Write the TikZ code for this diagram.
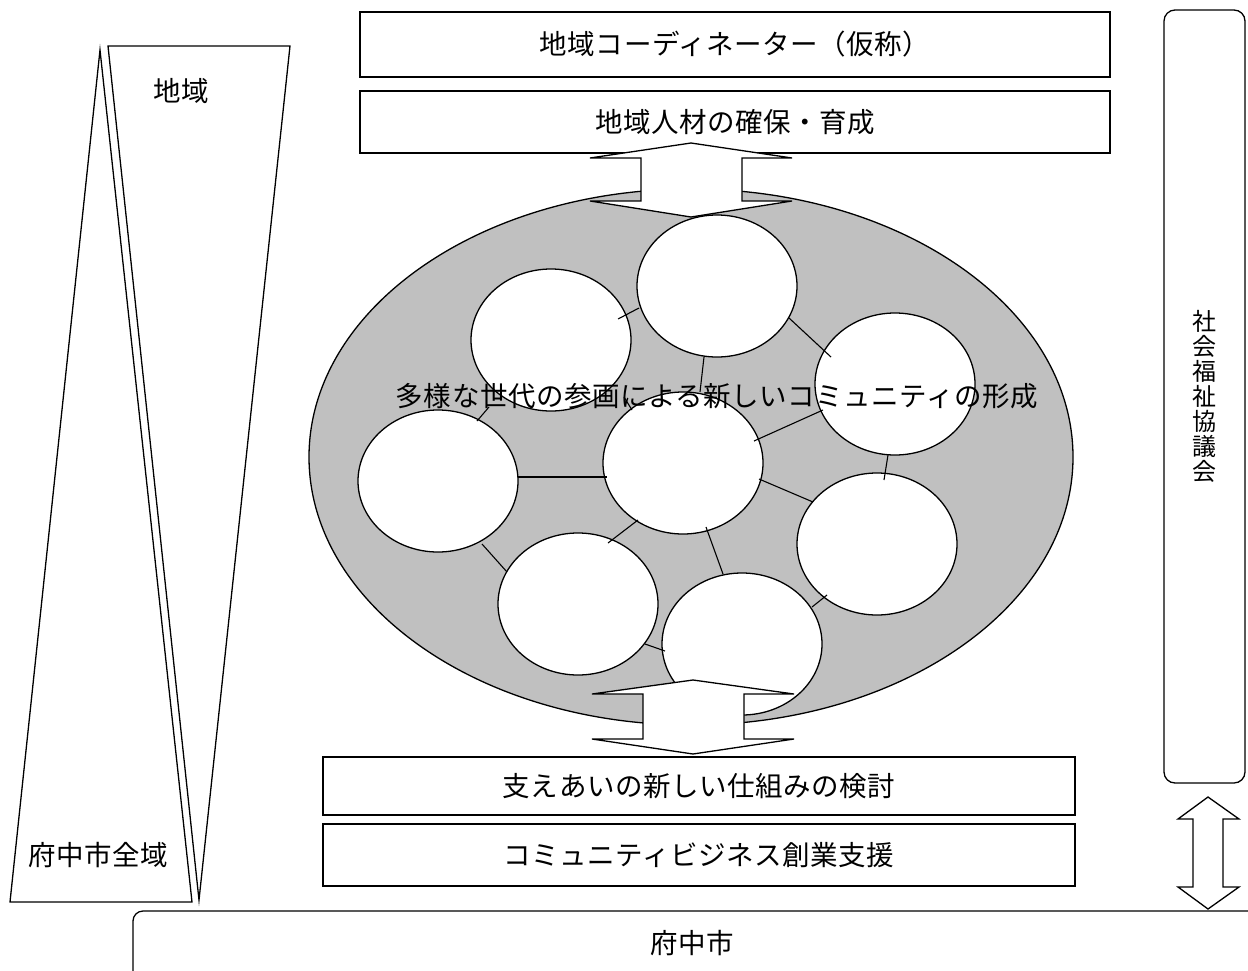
\documentclass[tikz,border=0pt]{standalone}
\usepackage{fontspec}
\usetikzlibrary{shapes.geometric}
\newfontfamily\jp[LetterSpace=2]{Noto Sans CJK JP}
\newfontfamily\jpv{Noto Sans CJK JP}
\newcommand\jpbig{\jp\fontsize{27.5}{30}\selectfont}
\newcommand\jpvert{\jpv\fontsize{24}{25}\selectfont}
\definecolor{ellgray}{HTML}{C0C0C0}
\tikzset{
  outl/.style={draw=black, line width=1.3pt},
  txtbox/.style={outl, fill=white, rectangle, inner sep=0pt, font=\jpbig},
  rbox/.style={outl, fill=white, rectangle, rounded corners=11pt, inner sep=0pt},
  circ/.style={outl, ellipse, fill=white, minimum width=160pt, minimum height=142pt, inner sep=0pt},
  conn/.style={draw=black, line width=1.1pt},
  dblarrow/.style={outl, fill=white, line join=miter},
  lbl/.style={font=\jpbig, inner sep=0pt},
}
\newcommand\cn[4]{\draw[conn] ([shift={#2}]#1.center) -- ([shift={#4}]#3.center);}
\begin{document}
\begin{tikzpicture}[x=1pt,y=-1pt]
\path[use as bounding box] (0,0) rectangle (1248,970);
\clip (0,0) rectangle (1248,970);

% left triangles
\draw[outl, fill=white, line join=miter] (100,50) -- (192,902) -- (10,902) -- cycle;
\draw[outl, fill=white, line join=miter] (108,46) -- (290,46) -- (199,900) -- cycle;
\node[lbl] (chiiki) at (181,91) {地域};
\node[lbl] (zeniki) at (98,855) {府中市全域};

% boxes
\node[txtbox, minimum width=750pt, minimum height=65pt] (coord) at (735,44.5) {地域コーディネーター（仮称）};
\node[txtbox, minimum width=750pt, minimum height=62pt] (jinzai) at (735,122) {地域人材の確保・育成};
\node[txtbox, minimum width=752pt, minimum height=58pt] (sasae) at (699,786) {支えあいの新しい仕組みの検討};
\node[txtbox, minimum width=752pt, minimum height=62pt] (cb) at (699,855) {コミュニティビジネス創業支援};

% right box
\node[rbox, minimum width=81pt, minimum height=773pt, align=center, font=\jpvert] (shakyo) at (1204.5,396.5)
  {社\\会\\福\\祉\\協\\議\\会};

% bottom box
\node[rbox, rounded corners=10pt, minimum width=1140pt, minimum height=90pt] (fuchu) at (703,956) {};
\node[lbl] (fuchuT) at (692,943) {府中市};

% big ellipse
\node[outl, ellipse, fill=ellgray, minimum width=764pt, minimum height=536pt, inner sep=0pt] (big) at (691,457) {};

% circles
\node[circ] (cT) at (717,286) {};
\node[circ] (cU) at (551,340) {};
\node[circ] (cR) at (895,384) {};
\node[circ] (cC) at (683,463) {};
\node[circ] (cL) at (438,481) {};
\node[circ] (cQ) at (877,544) {};
\node[circ] (cD) at (578,604) {};
\node[circ] (cB) at (742,644) {};

% connectors
\cn{cU}{(67,-21)}{cT}{(-78,22)}
\cn{cT}{(-13,71)}{cC}{(17,-71)}
\cn{cT}{(72,32)}{cR}{(-64,-27)}
\cn{cC}{(71,-22)}{cR}{(-72,26)}
\cn{cR}{(-7,71)}{cQ}{(7,-64)}
\cn{cC}{(76,16)}{cQ}{(-64,-42)}
\cn{cC}{(-45,57)}{cD}{(30,-61)}
\cn{cC}{(23,64)}{cB}{(-19,-70)}
\cn{cQ}{(-50,51)}{cB}{(70,-37)}
\cn{cD}{(67,40)}{cB}{(-77,7)}
\cn{cL}{(80,-4)}{cC}{(-76,14)}
\cn{cU}{(-62,67)}{cL}{(39,-60)}
\cn{cL}{(44,63)}{cD}{(-71,-32)}
\cn{cU}{(73,57)}{cC}{(-51,-53)}

% central text
\node[lbl] (title) at (717,396) {多様な世代の参画による新しいコミュニティの形成};

% double arrows
\draw[dblarrow] (691,143) -- (792,158) -- (742,158) -- (742,201) -- (792,201) -- (691,217)
  -- (590,201) -- (641,201) -- (641,158) -- (590,158) -- cycle;
\draw[dblarrow] (693,680) -- (794,694) -- (744,694) -- (744,739) -- (794,739) -- (693,754)
  -- (592,739) -- (643,739) -- (643,694) -- (592,694) -- cycle;
\draw[dblarrow] (1208,797) -- (1239,819) -- (1223,819) -- (1223,887) -- (1239,887) -- (1208,909)
  -- (1178,887) -- (1193,887) -- (1193,819) -- (1178,819) -- cycle;
\end{tikzpicture}
\end{document}
